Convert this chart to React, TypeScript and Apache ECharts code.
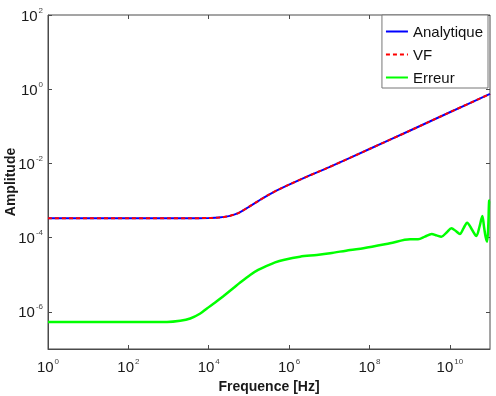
import React, { useEffect, useRef } from "react";
import * as echarts from "echarts";

// Frequencies [Hz] and amplitudes
const freqAnalytique = [1, 10, 100, 1000, 3162, 1e4, 17783, 31623, 56234, 1e5, 177828, 316228, 562341, 1e6, 3.162e6, 1e7, 1e8, 1e9, 1e10, 1e11];
const analytique = [3.33e-4, 3.33e-4, 3.33e-4, 3.33e-4, 3.34e-4, 3.39e-4, 3.47e-4, 3.8e-4, 4.68e-4, 6.76e-4, 1.0e-3, 1.45e-3, 2.0e-3, 2.69e-3, 4.68e-3, 7.94e-3, 2.45e-2, 7.59e-2, 0.24, 0.746];

const freqVF = [1, 10, 100, 1000, 3162, 1e4, 17783, 31623, 56234, 1e5, 177828, 316228, 562341, 1e6, 3.162e6, 1e7, 1e8, 1e9, 1e10, 1e11];
const vf = [3.33e-4, 3.33e-4, 3.33e-4, 3.33e-4, 3.34e-4, 3.39e-4, 3.47e-4, 3.8e-4, 4.68e-4, 6.76e-4, 1.0e-3, 1.45e-3, 2.0e-3, 2.69e-3, 4.68e-3, 7.94e-3, 2.45e-2, 7.59e-2, 0.24, 0.746];

const freqErreur = [
  1, 10, 100, 912, 1950, 3467, 6166, 9016, 14454, 23442, 41305, 60674, 107399, 169824, 279254, 448745, 721107,
  1.875e6, 4.898e6, 1.047e7, 3.311e7, 7.079e7, 3.236e8, 1.023e9, 1.622e9, 2.399e9,
  3.548e9, 4.677e9, 6.166e9, 8.318e9, 1.096e10, 1.413e10, 1.778e10, 2.188e10, 2.692e10,
  3.548e10, 4.571e10, 5.495e10, 6.457e10, 7.079e10, 7.762e10, 8.511e10, 9.12e10, 9.55e10, 1e11,
];
const erreur = [
  5.35e-7, 5.35e-7, 5.35e-7, 5.35e-7, 5.75e-7, 6.64e-7, 9.06e-7, 1.24e-6, 1.79e-6, 2.69e-6, 4.41e-6, 6.19e-6, 9.89e-6, 1.35e-5, 1.73e-5, 2.15e-5, 2.51e-5,
  3.08e-5, 3.42e-5, 3.8e-5, 4.68e-5, 5.18e-5, 7.06e-5, 9.06e-5, 9.06e-5, 1.07e-4,
  1.26e-4, 1.15e-4, 1.06e-4, 1.38e-4, 1.79e-4, 1.51e-4, 1.26e-4, 1.78e-4, 2.54e-4,
  1.66e-4, 1.11e-4, 2.0e-4, 3.85e-4, 2.0e-4, 1.06e-4, 7.8e-5, 2.51e-4, 9.93e-4, 1.0e-3,
];

const xTicks = [1, 1e2, 1e4, 1e6, 1e8, 1e10];
const yTicks = [1e-6, 1e-4, 1e-2, 1, 1e2];

export default function App() {
  const ref = useRef<HTMLDivElement>(null);
  useEffect(() => {
    const chart = echarts.init(ref.current!, null, { renderer: "svg" });
    const font = "'Liberation Sans', Arial, Helvetica, sans-serif";
    const pow = (v: number) => `{b|10}{e|${Math.round(Math.log10(v))}}`;
    const rich: any = {
      b: { fontSize: 15, fontFamily: font, color: "#1a1a1a", lineHeight: 18 },
      e: { fontSize: 8, fontFamily: font, color: "#444", verticalAlign: "top", lineHeight: 9, padding: [0, 0, 0, 1] },
    };
    const axisColor = "#4a4a4a";
    const xBase: any = { type: "log", logBase: 10, min: 1, max: 1e11, splitLine: { show: false }, minorTick: { show: false } };
    const yBase: any = { type: "log", logBase: 10, min: 1e-7, max: 1e2, splitLine: { show: false }, minorTick: { show: false } };
    const tickStyle = { show: true, inside: true, length: 4, lineStyle: { color: axisColor, width: 1 } };

    chart.setOption({
      animation: false,
      grid: { left: 48, right: 6, top: 15, bottom: 47, show: true, borderColor: axisColor, borderWidth: 1, containLabel: false, outerBoundsMode: "none" },
      xAxis: [
        {
          ...xBase,
          position: "bottom",
          axisLine: { show: true, lineStyle: { color: axisColor } },
          axisTick: { ...tickStyle, customValues: xTicks },
          axisLabel: { customValues: xTicks, formatter: pow, rich, margin: 8, color: "#1a1a1a" },
          name: "Frequence [Hz]",
          nameLocation: "middle",
          nameGap: 30,
          nameMoveOverlap: false,
          nameTextStyle: { fontSize: 14, fontWeight: "bold", fontFamily: font, color: "#1a1a1a" },
        },
        {
          ...xBase,
          position: "top",
          axisLine: { show: false },
          axisTick: { ...tickStyle, customValues: xTicks },
          axisLabel: { show: false },
        },
      ],
      yAxis: [
        {
          ...yBase,
          position: "left",
          axisLine: { show: true, lineStyle: { color: axisColor } },
          axisTick: { ...tickStyle, customValues: yTicks },
          axisLabel: { customValues: yTicks, formatter: pow, rich, margin: 5, color: "#1a1a1a" },
          name: "Amplitude",
          nameLocation: "middle",
          nameGap: 31,
          nameMoveOverlap: false,
          nameTextStyle: { fontSize: 14, fontWeight: "bold", fontFamily: font, color: "#1a1a1a" },
        },
        {
          ...yBase,
          position: "right",
          axisLine: { show: false },
          axisTick: { ...tickStyle, customValues: yTicks },
          axisLabel: { show: false },
        },
      ],
      legend: {
        orient: "vertical",
        right: 8,
        top: 15,
        itemWidth: 22,
        itemHeight: 14,
        itemGap: 8,
        padding: [9, 5, 3, 3],
        backgroundColor: "#ffffff",
        borderColor: "#777777",
        borderWidth: 1,
        borderRadius: 0,
        selectedMode: false,
        itemStyle: { opacity: 0 },
        textStyle: { fontSize: 15, fontFamily: font, color: "#111", lineHeight: 15 },
        data: ["Analytique", "VF", "Erreur"],
      },
      series: [
        {
          name: "Analytique",
          type: "line",
          data: freqAnalytique.map((f, i) => [f, analytique[i]]),
          symbol: "none",
          showSymbol: false,
          smooth: 0.3,
          lineStyle: { color: "#0000ff", width: 2 },
          itemStyle: { color: "#0000ff" },
          z: 2,
        },
        {
          name: "VF",
          type: "line",
          data: freqVF.map((f, i) => [f, vf[i]]),
          symbol: "none",
          showSymbol: false,
          smooth: 0.3,
          lineStyle: { color: "#ff0000", width: 2, type: [4, 3] },
          itemStyle: { color: "#ff0000" },
          z: 3,
        },
        {
          name: "Erreur",
          type: "line",
          data: freqErreur.map((f, i) => [f, erreur[i]]),
          symbol: "none",
          showSymbol: false,
          smooth: 0.3,
          lineStyle: { color: "#00ff00", width: 2.5 },
          itemStyle: { color: "#00ff00" },
          z: 2,
        },
      ],
    });
    return () => chart.dispose();
  }, []);
  return <div ref={ref} style={{ position: "fixed", left: 0, top: 0, width: 496, height: 396 }} />;
}
